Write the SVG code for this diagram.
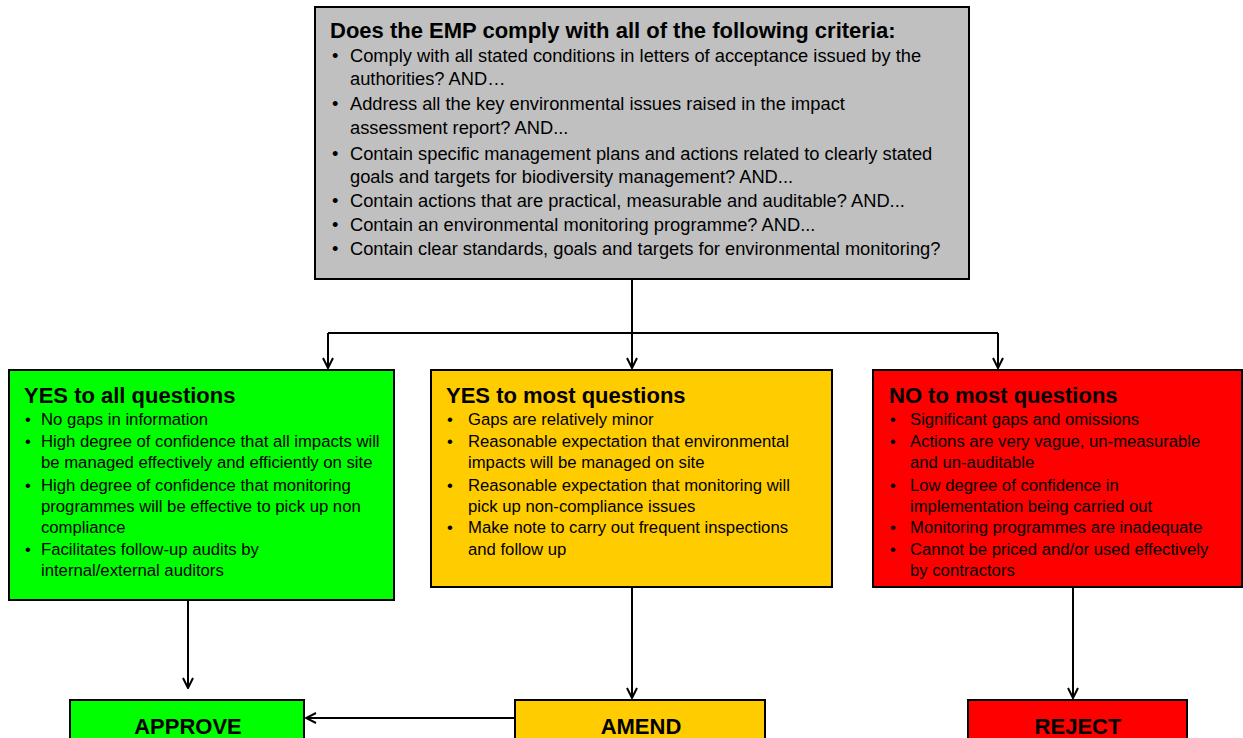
<svg xmlns="http://www.w3.org/2000/svg" width="1243" height="738" viewBox="0 0 1243 738">
<style>
text{font-family:"Liberation Sans",Arial,sans-serif;fill:#000}
.box{stroke:#000;stroke-width:2}
.ttl{font-weight:bold;font-size:22px}
.top{font-size:18.3px}
.b{font-size:16.7px}
.res{font-weight:bold;font-size:22px;text-anchor:middle}
.c{fill:none;stroke:#000;stroke-width:2}
</style>
<defs>
<marker id="ar" viewBox="0 0 12 12" refX="11" refY="6" markerWidth="12" markerHeight="12" markerUnits="userSpaceOnUse" orient="auto">
<path d="M1,1 L11,6 L1,11" fill="none" stroke="#000" stroke-width="2"/>
</marker>
</defs>
<rect width="1243" height="738" fill="#fff"/>
<g id="connectors">
<line class="c" x1="632" y1="279" x2="632" y2="333"/>
<line class="c" x1="328" y1="333" x2="998" y2="333"/>
<line class="c" x1="328" y1="333" x2="328" y2="368" marker-end="url(#ar)"/>
<line class="c" x1="632" y1="333" x2="632" y2="368" marker-end="url(#ar)"/>
<line class="c" x1="998" y1="333" x2="998" y2="368" marker-end="url(#ar)"/>
<line class="c" x1="188" y1="600" x2="188" y2="688" marker-end="url(#ar)"/>
<line class="c" x1="632" y1="587" x2="632" y2="698" marker-end="url(#ar)"/>
<line class="c" x1="1073" y1="587" x2="1073" y2="698" marker-end="url(#ar)"/>
<line class="c" x1="515" y1="718" x2="306" y2="718" marker-end="url(#ar)"/>
</g>
<g id="criteria">
<rect class="box" x="315" y="7" width="654" height="272" fill="#c0c0c0"/>
<text class="ttl" x="330" y="38">Does the EMP comply with all of the following criteria:</text>
<g class="top">
<text x="332" y="62">•</text><text x="350" y="62">Comply with all stated conditions in letters of acceptance issued by the</text>
<text x="350" y="85">authorities? AND…</text>
<text x="332" y="110">•</text><text x="350" y="110">Address all the key environmental issues raised in the impact</text>
<text x="350" y="134">assessment report? AND...</text>
<text x="332" y="160">•</text><text x="350" y="160">Contain specific management plans and actions related to clearly stated</text>
<text x="350" y="183">goals and targets for biodiversity management? AND...</text>
<text x="332" y="207">•</text><text x="350" y="207">Contain actions that are practical, measurable and auditable? AND...</text>
<text x="332" y="231">•</text><text x="350" y="231">Contain an environmental monitoring programme? AND...</text>
<text x="332" y="255">•</text><text x="350" y="255">Contain clear standards, goals and targets for environmental monitoring?</text>
</g>
</g>
<g id="yes-all">
<rect class="box" x="9" y="370" width="385" height="230" fill="#00ff00"/>
<text class="ttl" x="24" y="403">YES to all questions</text>
<g class="b">
<text x="25" y="425">•</text><text x="41" y="425">No gaps in information</text>
<text x="25" y="447">•</text><text x="41" y="447">High degree of confidence that all impacts will</text>
<text x="41" y="468">be managed effectively and efficiently on site</text>
<text x="25" y="491">•</text><text x="41" y="491">High degree of confidence that monitoring</text>
<text x="41" y="512">programmes will be effective to pick up non</text>
<text x="41" y="533">compliance</text>
<text x="25" y="555">•</text><text x="41" y="555">Facilitates follow-up audits by</text>
<text x="41" y="576">internal/external auditors</text>
</g>
</g>
<g id="yes-most">
<rect class="box" x="431" y="370" width="401" height="217" fill="#ffcc00"/>
<text class="ttl" x="446" y="403">YES to most questions</text>
<g class="b">
<text x="447" y="425">•</text><text x="468" y="425">Gaps are relatively minor</text>
<text x="447" y="447">•</text><text x="468" y="447">Reasonable expectation that environmental</text>
<text x="468" y="468">impacts will be managed on site</text>
<text x="447" y="491">•</text><text x="468" y="491">Reasonable expectation that monitoring will</text>
<text x="468" y="512">pick up non-compliance issues</text>
<text x="447" y="533">•</text><text x="468" y="533">Make note to carry out frequent inspections</text>
<text x="468" y="555">and follow up</text>
</g>
</g>
<g id="no-most">
<rect class="box" x="873" y="370" width="369" height="217" fill="#ff0000"/>
<text class="ttl" x="889" y="403">NO to most questions</text>
<g class="b">
<text x="890" y="425">•</text><text x="910" y="425">Significant gaps and omissions</text>
<text x="890" y="447">•</text><text x="910" y="447">Actions are very vague, un-measurable</text>
<text x="910" y="468">and un-auditable</text>
<text x="890" y="491">•</text><text x="910" y="491">Low degree of confidence in</text>
<text x="910" y="512">implementation being carried out</text>
<text x="890" y="533">•</text><text x="910" y="533">Monitoring programmes are inadequate</text>
<text x="890" y="555">•</text><text x="910" y="555">Cannot be priced and/or used effectively</text>
<text x="910" y="576">by contractors</text>
</g>
</g>
<g id="approve">
<rect class="box" x="70" y="700" width="234" height="40" fill="#00ff00"/>
<text class="res" x="188" y="734">APPROVE</text>
</g>
<g id="amend">
<rect class="box" x="515" y="700" width="250" height="40" fill="#ffcc00"/>
<text class="res" x="641" y="734">AMEND</text>
</g>
<g id="reject">
<rect class="box" x="968" y="700" width="219" height="40" fill="#ff0000"/>
<text class="res" x="1078" y="734">REJECT</text>
</g>
</svg>
